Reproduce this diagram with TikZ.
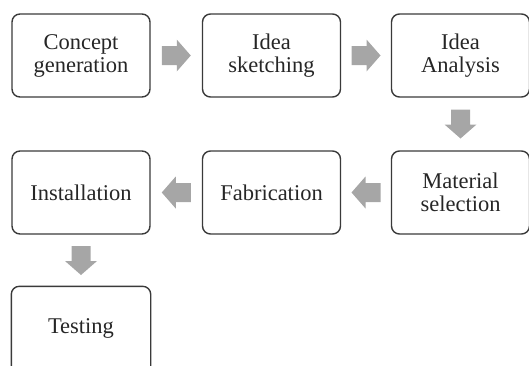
\documentclass[tikz,border=0pt]{standalone}
\usepackage{fontspec}
\setmainfont{Liberation Serif}
\usetikzlibrary{calc}
\definecolor{arrowgray}{HTML}{A6A6A6}
\definecolor{boxline}{HTML}{3A3A3A}
\tikzset{
  boxframe/.style={draw=boxline, line width=1.4pt, rounded corners=8pt},
  stepbox/.style={boxframe,
    minimum width=138pt, minimum height=83pt, inner sep=0pt, align=center,
    font=\fontsize{22.5}{23}\selectfont, text=black!85},
  blockarrow/.pic={
    \fill[arrowgray] (-14.5,-9.5) -- (0.5,-9.5) -- (0.5,-16) -- (14.5,0)
      -- (0.5,16) -- (0.5,9.5) -- (-14.5,9.5) -- cycle;
  }
}
\begin{document}
\begin{tikzpicture}[x=1pt,y=-1pt]
\useasboundingbox (0,0) rectangle (529,365);
\clip (0,0) rectangle (529,365);
\node[stepbox] (c) at (81,55.5) {Concept\\generation};
\node[stepbox] (s) at (271.5,55.5) {Idea\\sketching};
\node[stepbox] (a) at (460.5,55.5) {Idea\\Analysis};
\node[stepbox] (m) at (460.5,192.5) {Material\\selection};
\node[stepbox] (f) at (271.5,192.5) {Fabrication};
\node[stepbox] (i) at (81,192.5) {Installation};
\node[stepbox, draw=none] (t) at (81,328.5) {Testing};
\draw[boxframe] ([yshift=-20pt]t.south west) |- (t.north east)
  -- ([yshift=-20pt]t.south east);
\pic at ($(c.east)!0.5!(s.west)$) {blockarrow};
\pic at ($(s.east)!0.5!(a.west)$) {blockarrow};
\pic[rotate=-90] at ($(a.south)!0.5!(m.north)$) {blockarrow};
\pic[rotate=180] at ($(m.west)!0.5!(f.east)$) {blockarrow};
\pic[rotate=180] at ($(f.west)!0.5!(i.east)$) {blockarrow};
\pic[rotate=-90] at ($(i.south)!0.5!(t.north)$) {blockarrow};
\end{tikzpicture}
\end{document}
